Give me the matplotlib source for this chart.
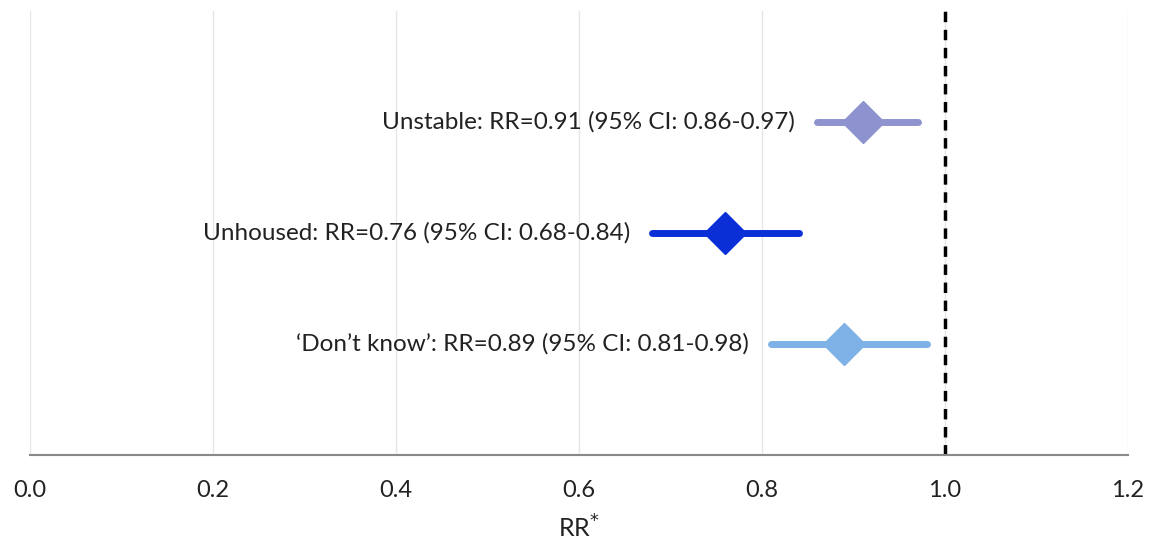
import matplotlib.pyplot as plt

labels = ["Unstable: RR=0.91 (95% CI: 0.86-0.97)",
          "Unhoused: RR=0.76 (95% CI: 0.68-0.84)",
          "\u2018Don\u2019t know\u2019: RR=0.89 (95% CI: 0.81-0.98)"]
rr = [0.91, 0.76, 0.89]
ci_low = [0.86, 0.68, 0.81]
ci_high = [0.97, 0.84, 0.98]
colors = ["#8e93cf", "#0a2fd6", "#7eb2e6"]
rows = [3, 2, 1]
ticks = [0.0, 0.2, 0.4, 0.6, 0.8, 1.0, 1.2]

plt.rcParams['font.family'] = ['Lato', 'DejaVu Sans']

fig = plt.figure(figsize=(11.56, 5.52), dpi=100)
ax = fig.add_axes([30 / 1156, 1 - 455 / 552, (1128 - 30) / 1156, (455 - 11) / 552])

for y, r, lo, hi, c, lab in zip(rows, rr, ci_low, ci_high, colors, labels):
    ax.plot([lo, hi], [y, y], color=c, lw=5, solid_capstyle='round', zorder=3)
    ax.plot(r, y, marker='D', ms=21, color=c, mec=c, zorder=4)
    ax.annotate(lab, (lo, y), xytext=(-16, 0), textcoords='offset points',
                ha='right', va='center', fontsize=17.5, color='#222222')

ax.axvline(1.0, color='black', ls=(0, (3, 2.2)), lw=2.5, zorder=2)

ax.set_xlim(0, 1.2)
ax.set_ylim(0, 4)
ax.set_xticks(ticks)
ax.set_xticklabels([f"{t:.1f}" for t in ticks], fontsize=17, color='#222222')
ax.set_yticks([])
ax.tick_params(axis='x', length=0, pad=18)
ax.grid(axis='x', color='#e6e6e6', lw=1)
ax.set_axisbelow(True)
for s in ['top', 'right', 'left']:
    ax.spines[s].set_visible(False)
ax.spines['bottom'].set_color('#8a8a8a')
ax.spines['bottom'].set_linewidth(1.5)
ax.set_xlabel("RR$^{*}$", fontsize=18, color='#222222', labelpad=10)

fig.savefig("out.png", dpi=100)
